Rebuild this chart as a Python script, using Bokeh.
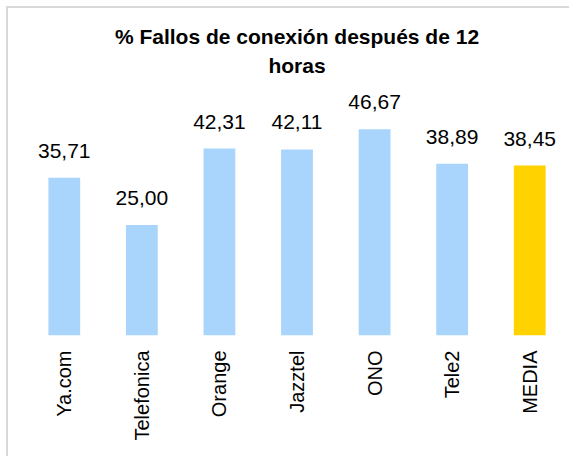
import math
from bokeh.plotting import figure
from bokeh.models import ColumnDataSource, LabelSet, Range1d, Title
from bokeh.core.properties import value
from bokeh.embed import file_html
from bokeh.resources import INLINE

categories = ["Ya.com", "Telefonica", "Orange", "Jazztel", "ONO", "Tele2", "MEDIA"]
values = [35.71, 25.00, 42.31, 42.11, 46.67, 38.89, 38.45]
bar_colors = ["#A9D5FC"] * 6 + ["#FFD200"]
value_labels = [f"{v:.2f}".replace(".", ",") for v in values]

source = ColumnDataSource(dict(cat=categories, val=values, color=bar_colors, lab=value_labels))

FONT = "Liberation Sans"

p = figure(
    x_range=categories,
    y_range=Range1d(0, 57.7),
    width=563, height=450,
    output_backend="svg", toolbar_location=None,
    min_border_top=72, min_border_left=17, min_border_right=3, min_border_bottom=123,
)
p.styles = {"margin-left": "6px", "margin-top": "6px",
            "border-left": "2px solid #d9d9d9", "border-top": "2px solid #d9d9d9"}

p.title.text = "% Fallos de conexión después de 12"
p.title.text_font = FONT
p.title.text_font_size = "21px"
p.title.text_font_style = "bold"
p.title.text_color = "black"
p.title.align = "center"
p.title.standoff = 0

t2 = Title(text="horas", align="center", text_color="black",
           text_font=FONT, text_font_size="21px", text_font_style="bold", standoff=8)
p.add_layout(t2, "above")

p.vbar(x="cat", top="val", width=0.41, color="color", source=source, line_color=None)

labels = LabelSet(x="cat", y="val", text="lab", source=source, y_offset=20,
                  text_align="center", text_baseline="alphabetic",
                  text_font=value(FONT), text_font_size="21px", text_color="black")
p.add_layout(labels)

p.x_range.range_padding = 0
p.yaxis.visible = False
p.xgrid.grid_line_color = None
p.ygrid.grid_line_color = None
p.outline_line_color = None
p.xaxis.axis_line_color = None
p.xaxis.major_tick_line_color = None
p.xaxis.major_tick_out = 0
p.xaxis.major_tick_in = 0
p.xaxis.major_label_orientation = math.pi / 2
p.xaxis.major_label_standoff = 15
p.xaxis.major_label_text_font = FONT
p.xaxis.major_label_text_font_size = "20px"
p.xaxis.major_label_text_color = "black"

open("out.html", "w").write(file_html(p, INLINE))
